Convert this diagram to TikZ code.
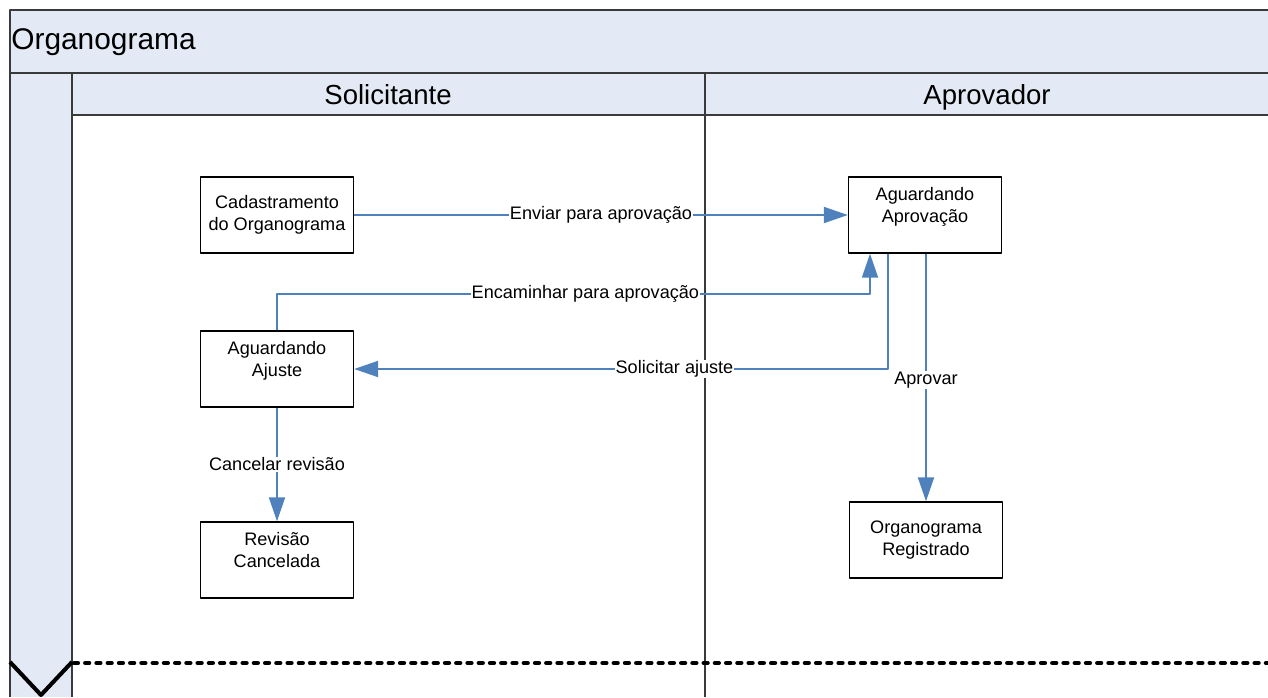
\documentclass[tikz,border=0pt]{standalone}
\usepackage{fontspec}
\setmainfont{Liberation Sans}
\usepackage{tikz}
\tikzset{>=latex}
\usetikzlibrary{shapes,arrows,arrows.meta}
\definecolor{laneblue}{HTML}{E4EAF5}
\definecolor{flowblue}{HTML}{4F81BD}
\definecolor{framegray}{HTML}{3A3A3A}
\tikzset{
	estado/.style={draw=black,line width=0.8pt,fill=white,minimum width=3.06cm,minimum height=1.52cm,align=center,inner sep=0pt,font=\fontsize{10.3}{12.5}\selectfont},
	topo/.style={text depth=0.42cm},
	fluxo/.style={draw=flowblue,line width=1.1pt,-{Triangle[length=0.48cm,width=0.32cm]}},
	rotulo/.style={fill=white,inner sep=0.5pt,font=\fontsize{10.3}{12.5}\selectfont},
	raia/.style={draw=framegray,line width=0.9pt},
	cabeca/.style={anchor=base,font=\fontsize{15.7}{18}\selectfont},
}

\begin{document}
\begin{tikzpicture}[line join=round,x=0.02cm,y=-0.02cm]
	\useasboundingbox (0,0) rectangle (1268,697);
	\fill[laneblue] (10,10) rectangle (1268,73);
	\fill[laneblue] (10,73) rectangle (72,697);
	\fill[laneblue] (72,73) rectangle (1268,115);
	\draw[raia] (1268,10) -- (10,10) -- (10,697);
	\draw[raia] (10,73) -- (1268,73);
	\draw[raia] (72,73) -- (72,697);
	\draw[raia] (72,115) -- (1268,115);
	\draw[raia] (705,73) -- (705,697);
	\node[anchor=west,inner sep=0pt,font=\fontsize{17}{20}\selectfont] (titulo) at (11,42) {Organograma};
	\node[cabeca] (solic) at (388,104) {Solicitante};
	\node[cabeca] (aprovador) at (987,104) {Aprovador};
	% fim da raia
	\draw[line width=2.5pt,line cap=round,dash pattern=on 2.2pt off 4.2pt] (74,663) -- (1268,663);
	\draw[line width=2.3pt] (10,662) -- (41,695) -- (72,662);
	% estados
	\node[estado] (cad) at (277,215) {Cadastramento\\do Organograma};
	\node[estado,topo] (aprov) at (925,215) {Aguardando\\Aprovação};
	\node[estado,topo] (ajuste) at (277,369) {Aguardando\\Ajuste};
	\node[estado,topo] (cancel) at (277,560) {Revisão\\Cancelada};
	\node[estado] (reg) at (926,540) {Organograma\\Registrado};
	% transicoes
	\draw[fluxo] (cad.east) -- (aprov.west) node[rotulo,pos=0.5] {Enviar para aprovação};
	\draw[fluxo] (ajuste.north) -- ++(0,-36) -| ([xshift=-1.1cm]aprov.south) node[rotulo,pos=0.26] {Encaminhar para aprovação};
	\draw[fluxo] ([xshift=-0.74cm]aprov.south) |- (ajuste.east) node[rotulo,pos=0.7] {Solicitar ajuste};
	\draw[fluxo] (aprov.south -| reg.north) -- (reg.north) node[rotulo,pos=0.51] {Aprovar};
	\draw[fluxo] (ajuste.south) -- (cancel.north) node[rotulo,pos=0.5] {Cancelar revisão};
\end{tikzpicture}
\end{document}
